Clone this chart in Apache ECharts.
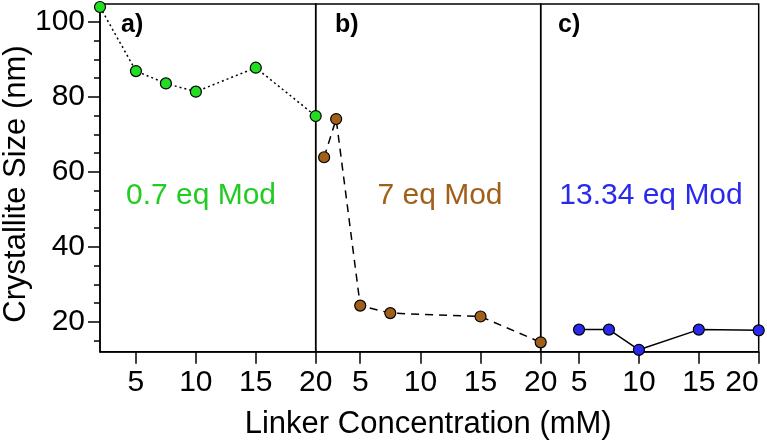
<!DOCTYPE html>
<html>
<head>
<meta charset="utf-8">
<script src="https://cdn.jsdelivr.net/npm/echarts@6/dist/echarts.min.js"></script>
<style>html,body{margin:0;padding:0;background:#fff}#chart{width:767px;height:448px}</style>
</head>
<body>
<div id="chart"></div>
<script>
// ---- data ----
const panelA_x = [2, 5, 7.5, 10, 15, 20];
const panelA_y = [104, 86.9, 83.6, 81.4, 87.8, 74.9];
const panelB_x = [2, 3, 5, 7.5, 15, 20];
const panelB_y = [63.9, 74.1, 24.3, 22.3, 21.4, 14.5];
const panelC_x = [5, 7.5, 10, 15, 20];
const panelC_y = [17.9, 17.9, 12.5, 17.9, 17.7];
const xTicks = [5, 10, 15, 20];
const yMajorTicks = [20, 40, 60, 80, 100];
const yMinorTicks = [15, 25, 30, 35, 45, 50, 55, 65, 70, 75, 85, 90, 95];
const panelLabels = ['a)', 'b)', 'c)'];
const panelNames = ['0.7 eq Mod', '7 eq Mod', '13.34 eq Mod'];
const xTitle = 'Linker Concentration (mM)';
const yTitle = 'Crystallite Size (nm)';

const FONT = 'Liberation Sans, Arial, sans-serif';
const pair = (xs, ys) => xs.map((x, i) => [x, ys[i]]);

const chart = echarts.init(document.getElementById('chart'), null, {renderer: 'canvas'});
const TOP = 4, H = 347.7, YMIN = 12, YMAX = 104.8;
const grids = [
  {left: 100, top: TOP, width: 215.7, height: H},
  {left: 315.7, top: TOP, width: 225, height: H},
  {left: 540.7, top: TOP, width: 218, height: H}
].map(g => Object.assign(g, {show: true, borderColor: '#000', borderWidth: 1.5, backgroundColor: 'transparent'}));

const xMins = [2, 1.3, 1.8];
const xAxes = xMins.map((mn, i) => ({
  type: 'value', gridIndex: i, min: mn, max: 20,
  axisLine: {show: true, onZero: false, lineStyle: {color: '#000', width: 1.5}},
  axisTick: {show: true, length: 12, lineStyle: {color: '#000', width: 1.5}, customValues: xTicks},
  axisLabel: {show: true, customValues: xTicks, color: '#000', fontFamily: FONT, fontSize: 30, margin: 16,
              alignMaxLabel: i === 2 ? 'right' : null},
  splitLine: {show: false},
  name: i === 1 ? xTitle : '', nameLocation: 'middle', nameGap: 57,
  nameTextStyle: {color: '#000', fontFamily: FONT, fontSize: 31}
}));

const yAxes = [0, 1, 2].map(i => ({
  type: 'value', gridIndex: i, min: YMIN, max: YMAX,
  axisLine: {show: i === 0, lineStyle: {color: '#000', width: 1.5}},
  axisTick: {show: i === 0, length: 12, lineStyle: {color: '#000', width: 1.5}, customValues: yMajorTicks},
  axisLabel: {show: i === 0, customValues: yMajorTicks, color: '#000', fontFamily: FONT, fontSize: 30, margin: 15},
  splitLine: {show: false}
}));
yAxes.push({
  type: 'value', gridIndex: 0, min: YMIN, max: YMAX, position: 'left',
  axisLine: {show: false},
  axisTick: {show: true, length: 6, lineStyle: {color: '#000', width: 1.5}, customValues: yMinorTicks},
  axisLabel: {show: false, customValues: yMinorTicks},
  splitLine: {show: false}
});

const mk = (i, data, fill, type) => ({
  type: 'line', xAxisIndex: i, yAxisIndex: i, data: data, clip: false,
  symbol: 'circle', symbolSize: 11,
  itemStyle: {color: fill, borderColor: '#000', borderWidth: 1.2},
  lineStyle: {color: '#000', width: 1.5, type: type},
  animation: false, z: 5
});

const colors = ['#22dd22', '#a0601a', '#2a2aee'];
const textColors = ['#22cc22', '#a0601a', '#2a2aee'];
const labelX = [121, 335, 558];
const nameX = [201, 440, 651];

const graphics = [];
panelLabels.forEach((t, i) => graphics.push({type: 'text', x: labelX[i], y: 25,
  style: {text: t, fill: '#000', font: 'bold 25px ' + FONT, textAlign: 'left', textVerticalAlign: 'middle'}}));
panelNames.forEach((t, i) => graphics.push({type: 'text', x: nameX[i], y: 196,
  style: {text: t, fill: textColors[i], font: '30px ' + FONT, textAlign: 'center', textVerticalAlign: 'middle'}}));
graphics.push({type: 'text', x: 16, y: 184, rotation: Math.PI / 2,
  style: {text: yTitle, fill: '#000', font: '31px ' + FONT, textAlign: 'center', textVerticalAlign: 'middle'}});

chart.setOption({
  animation: false,
  grid: grids,
  xAxis: xAxes,
  yAxis: yAxes,
  series: [
    mk(0, pair(panelA_x, panelA_y), colors[0], [2, 3]),
    mk(1, pair(panelB_x, panelB_y), colors[1], [8, 6]),
    mk(2, pair(panelC_x, panelC_y), colors[2], 'solid')
  ],
  graphic: graphics
});
</script>
</body>
</html>
